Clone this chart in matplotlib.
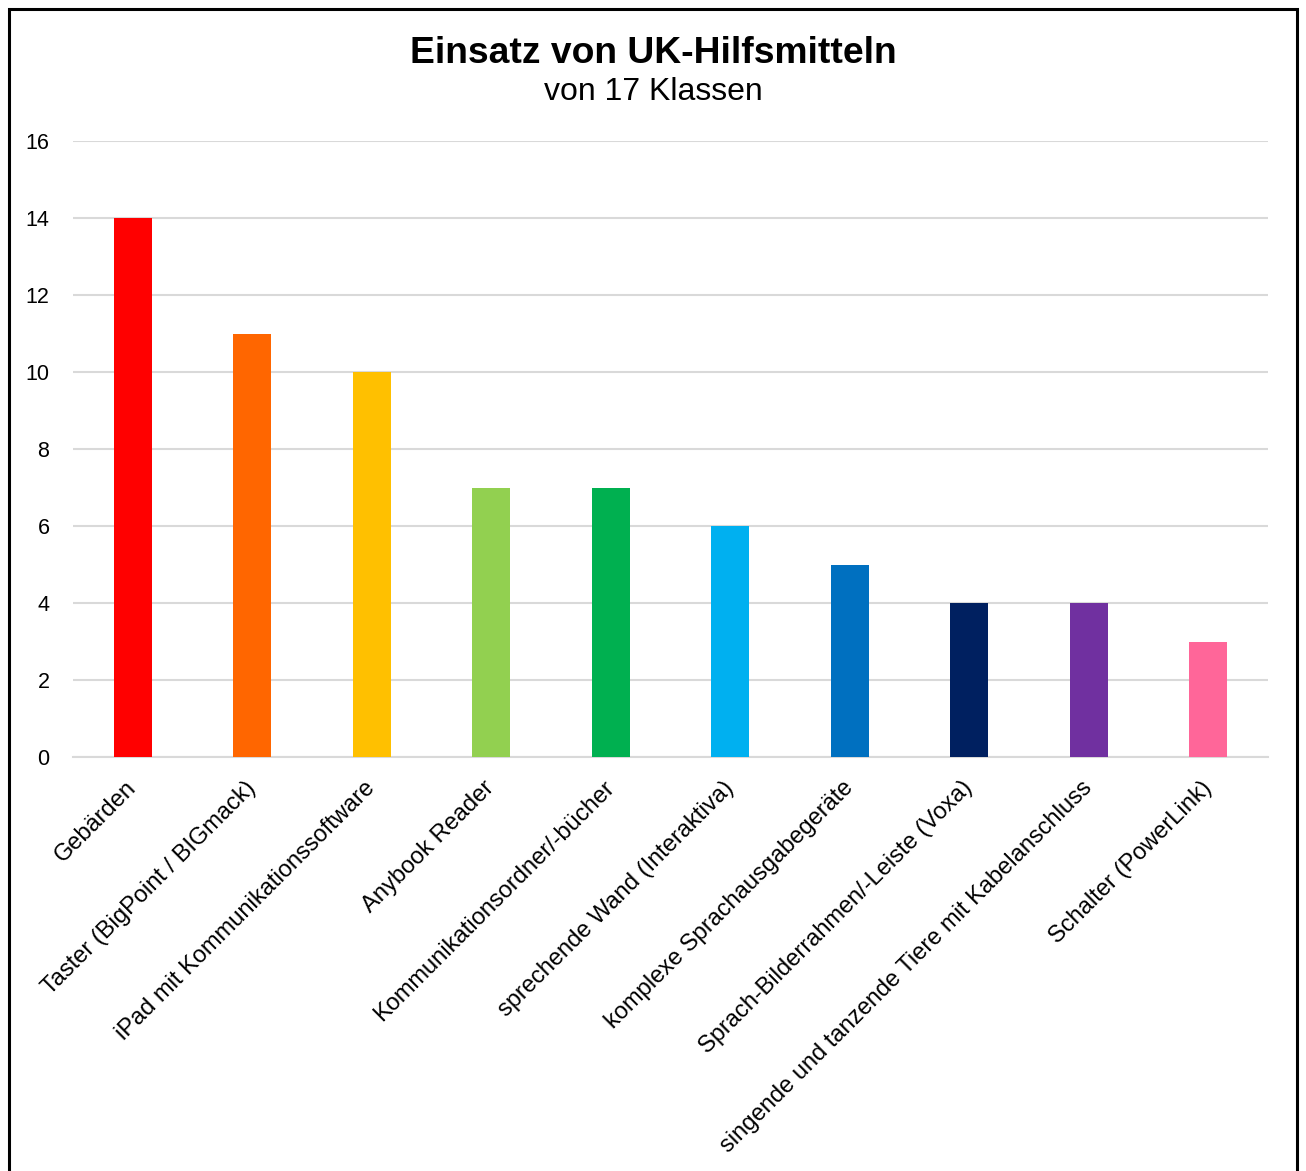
import matplotlib
matplotlib.use("Agg")
import matplotlib.pyplot as plt
from matplotlib.patches import Rectangle

# data
categories = ["Gebärden", "Taster (BigPoint / BIGmack)", "iPad mit Kommunikationssoftware",
              "Anybook Reader", "Kommunikationsordner/-bücher", "sprechende Wand (Interaktiva)",
              "komplexe Sprachausgabegeräte", "Sprach-Bilderrahmen/-Leiste (Voxa)",
              "singende und tanzende Tiere mit Kabelanschluss", "Schalter (PowerLink)"]
values = [14, 11, 10, 7, 7, 6, 5, 4, 4, 3]
colors = ["#FF0000", "#FF6600", "#FFC000", "#92D050", "#00B050",
          "#00B0F0", "#0070C0", "#002060", "#7030A0", "#FF6699"]
yticks = [0, 2, 4, 6, 8, 10, 12, 14, 16]

plt.rcParams['font.family'] = ['Liberation Sans', 'DejaVu Sans']

fig = plt.figure(figsize=(13.06, 11.71), dpi=100)
ax = fig.add_axes([73/1306, 1-757/1171, (1268-73)/1306, (757-141)/1171])

x = range(len(categories))
ax.bar(x, values, width=0.32, color=colors, zorder=3)

ax.set_xlim(-0.5, len(categories) - 0.5)
ax.set_ylim(0, 16)
ax.set_yticks(yticks)
ax.set_yticklabels([str(t) for t in yticks], fontsize=15.5)
ax.yaxis.grid(True, color="#D9D9D9", linewidth=1.5, zorder=0)
ax.tick_params(axis="y", length=0, pad=17)
ax.tick_params(axis="x", length=0, pad=20)
for s in ["top", "right", "left"]:
    ax.spines[s].set_visible(False)
ax.spines["bottom"].set_color("#D9D9D9")
ax.spines["bottom"].set_linewidth(1.5)

ax.set_xticks(list(x))
ax.set_xticklabels(categories, rotation=45, ha="right", va="center",
                   rotation_mode="anchor", fontsize=17)

fig.text(0.5, 1-63/1171, "Einsatz von UK-Hilfsmitteln", ha="center", va="baseline",
         fontsize=26.8, fontweight="bold")
fig.text(0.5, 1-100/1171, "von 17 Klassen", ha="center", va="baseline", fontsize=23)

# outer frame
fig.patches.append(Rectangle((9/1306, -0.05), (1297-9)/1306, 1.05 - 9/1171,
                             transform=fig.transFigure, fill=False,
                             edgecolor="black", linewidth=2.2))

fig.savefig("out.png", dpi=100)
